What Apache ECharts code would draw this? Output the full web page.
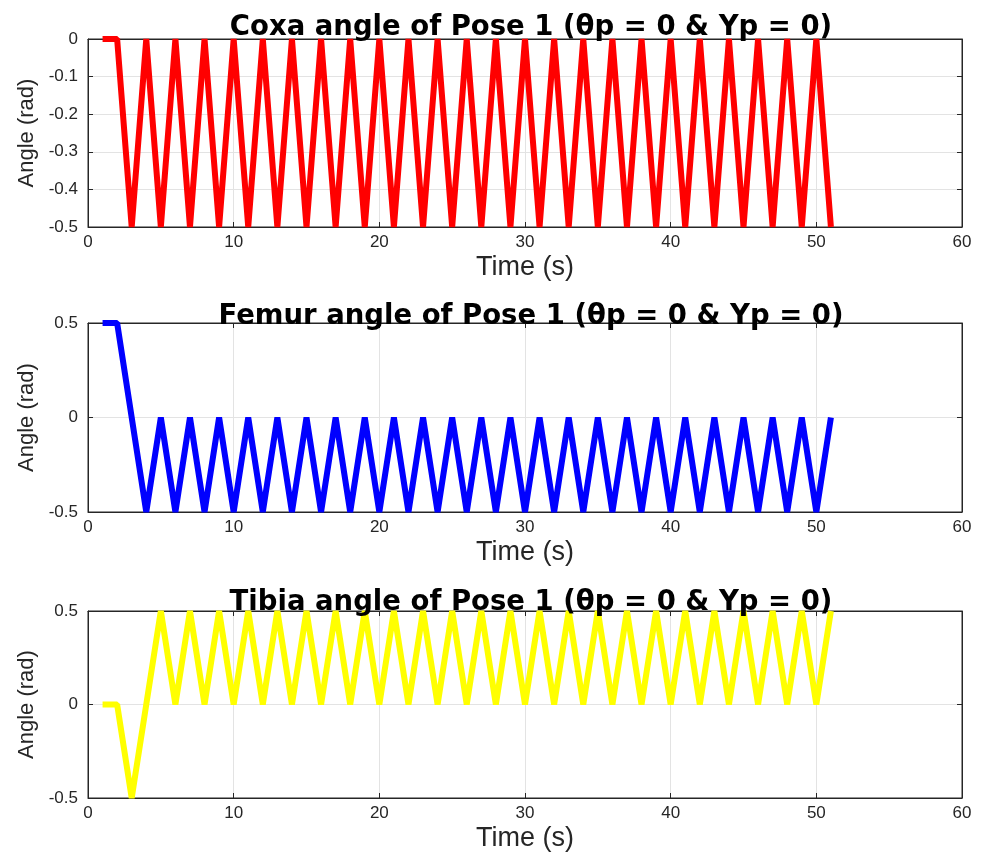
<!DOCTYPE html>
<html>
<head>
<meta charset="utf-8">
<title>Pose 1 joint angles</title>
<script src="https://cdn.jsdelivr.net/npm/echarts@6/dist/echarts.min.js"></script>
<style>
  html, body { margin: 0; padding: 0; background: #fff; }
  #chart { width: 988px; height: 860px; }
</style>
</head>
<body>
<div id="chart"></div>
<script>
  // time stamps (s), shared by the three joints
  var time = [
    1, 2, 3, 4, 5, 6, 7, 8, 9, 10,
    11, 12, 13, 14, 15, 16, 17, 18, 19, 20,
    21, 22, 23, 24, 25, 26, 27, 28, 29, 30,
    31, 32, 33, 34, 35, 36, 37, 38, 39, 40,
    41, 42, 43, 44, 45, 46, 47, 48, 49, 50,
    51
  ];
  // angles (rad)
  var coxa = [
    0, 0, -0.5, 0, -0.5, 0, -0.5, 0, -0.5, 0,
    -0.5, 0, -0.5, 0, -0.5, 0, -0.5, 0, -0.5, 0,
    -0.5, 0, -0.5, 0, -0.5, 0, -0.5, 0, -0.5, 0,
    -0.5, 0, -0.5, 0, -0.5, 0, -0.5, 0, -0.5, 0,
    -0.5, 0, -0.5, 0, -0.5, 0, -0.5, 0, -0.5, 0,
    -0.5
  ];
  var femur = [
    0.5, 0.5, 0, -0.5, 0, -0.5, 0, -0.5, 0, -0.5,
    0, -0.5, 0, -0.5, 0, -0.5, 0, -0.5, 0, -0.5,
    0, -0.5, 0, -0.5, 0, -0.5, 0, -0.5, 0, -0.5,
    0, -0.5, 0, -0.5, 0, -0.5, 0, -0.5, 0, -0.5,
    0, -0.5, 0, -0.5, 0, -0.5, 0, -0.5, 0, -0.5,
    0
  ];
  var tibia = [
    0, 0, -0.5, 0, 0.5, 0, 0.5, 0, 0.5, 0,
    0.5, 0, 0.5, 0, 0.5, 0, 0.5, 0, 0.5, 0,
    0.5, 0, 0.5, 0, 0.5, 0, 0.5, 0, 0.5, 0,
    0.5, 0, 0.5, 0, 0.5, 0, 0.5, 0, 0.5, 0,
    0.5, 0, 0.5, 0, 0.5, 0, 0.5, 0, 0.5, 0,
    0.5
  ];
  var titles = [
    "Coxa angle of Pose 1 (θp = 0 & Yp = 0)",
    "Femur angle of Pose 1 (θp = 0 & Yp = 0)",
    "Tibia angle of Pose 1 (θp = 0 & Yp = 0)"
  ];
  var values = [coxa, femur, tibia];
  var colors = ["#ff0000", "#0000ff", "#ffff00"];
  var yMin = [-0.5, -0.5, -0.5];
  var yMax = [0, 0.5, 0.5];
  var yStep = [0.1, 0.5, 0.5];

  var gridTop = [39, 323, 611];
  var gridH = [188, 189, 187];
  var titleTop = [9, 298, 584];

  var ink = "#262626";
  var gridColor = "#e3e3e3";
  var tickFont = { color: ink, fontSize: 17, fontFamily: "Liberation Sans" };

  var option = { animation: false, backgroundColor: "#fff", title: [], grid: [], xAxis: [], yAxis: [], series: [] };

  for (var i = 0; i < 3; i++) {
    option.title.push({
      text: titles[i],
      left: 526, top: titleTop[i], textAlign: "center",
      textStyle: { fontFamily: "DejaVu Sans", fontWeight: "bold", fontSize: 27.5, color: "#000" }
    });
    option.grid.push({
      left: 88, right: 26, top: gridTop[i], height: gridH[i],
      show: true, borderColor: ink, borderWidth: 1, backgroundColor: "#fff"
    });
    // bottom / left axes with labels
    option.xAxis.push({
      type: "value", gridIndex: i, min: 0, max: 60, interval: 10,
      name: "Time (s)", nameLocation: "middle", nameGap: 27,
      nameTextStyle: { color: ink, fontSize: 27, fontFamily: "Liberation Sans" },
      axisLine: { show: true, onZero: false, lineStyle: { color: ink } },
      axisTick: { inside: true, length: 5, lineStyle: { color: ink } },
      axisLabel: Object.assign({ margin: 7 }, tickFont),
      splitLine: { show: true, lineStyle: { color: gridColor } }
    });
    option.yAxis.push({
      type: "value", gridIndex: i, min: yMin[i], max: yMax[i], interval: yStep[i],
      name: "Angle (rad)", nameLocation: "middle", nameGap: 50,
      nameTextStyle: { color: ink, fontSize: 22, fontFamily: "Liberation Sans" },
      axisLine: { show: true, onZero: false, lineStyle: { color: ink } },
      axisTick: { inside: true, length: 5, lineStyle: { color: ink } },
      axisLabel: Object.assign({ margin: 10 }, tickFont),
      splitLine: { show: true, lineStyle: { color: gridColor } }
    });
    // top / right axes only for the box ticks
    option.xAxis.push({
      type: "value", gridIndex: i, position: "top", min: 0, max: 60, interval: 10,
      axisLine: { show: true, onZero: false, lineStyle: { color: ink } },
      axisTick: { inside: true, length: 5, lineStyle: { color: ink } },
      axisLabel: { show: false }, splitLine: { show: false }
    });
    option.yAxis.push({
      type: "value", gridIndex: i, position: "right", min: yMin[i], max: yMax[i], interval: yStep[i],
      axisLine: { show: true, onZero: false, lineStyle: { color: ink } },
      axisTick: { inside: true, length: 5, lineStyle: { color: ink } },
      axisLabel: { show: false }, splitLine: { show: false }
    });

    var pts = [];
    for (var k = 0; k < time.length; k++) pts.push([time[k], values[i][k]]);
    option.series.push({
      type: "line", xAxisIndex: i * 2, yAxisIndex: i * 2,
      data: pts, showSymbol: false, symbol: "none",
      lineStyle: { color: colors[i], width: 6 }
    });
  }

  var myChart = echarts.init(document.getElementById("chart"));
  myChart.setOption(option);
</script>
</body>
</html>
